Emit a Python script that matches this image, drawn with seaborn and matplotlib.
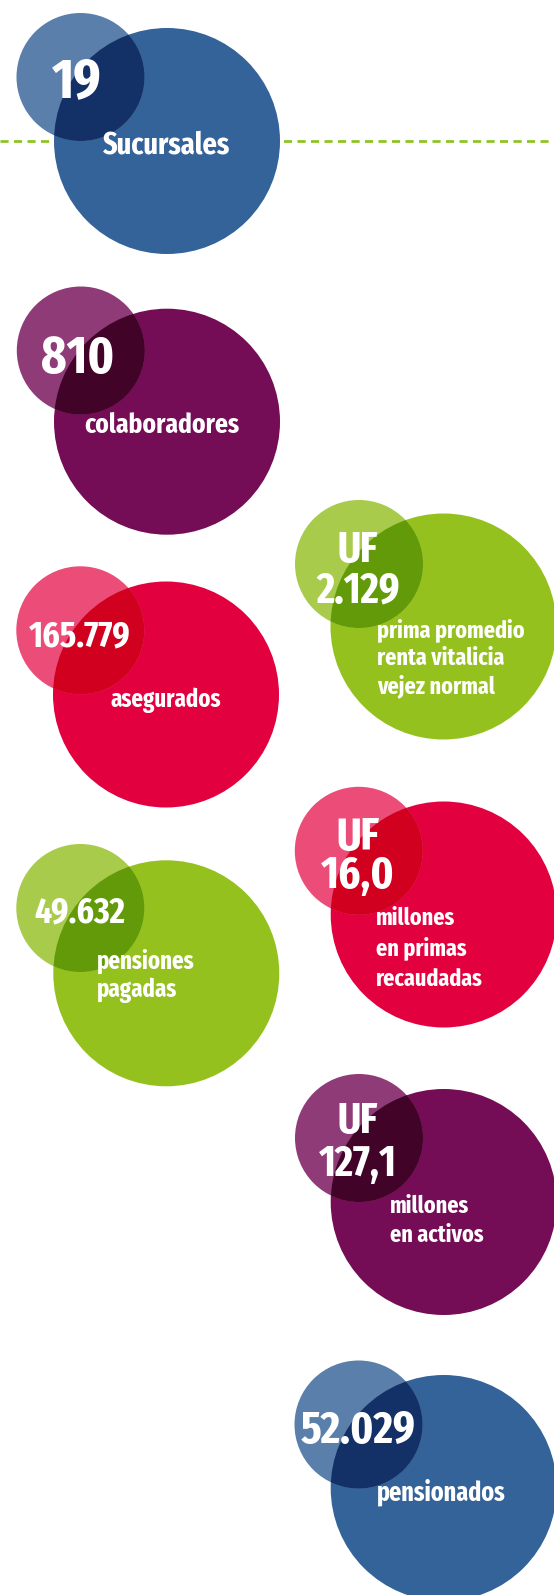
import os
import matplotlib
matplotlib.use('Agg')
import matplotlib.pyplot as plt
from matplotlib import font_manager as fm
from matplotlib.patches import Circle
from matplotlib.colors import to_rgb
import seaborn as sns

# %%
values = ['19', '810', '165.779', '49.632', 'UF\n2.129', 'UF\n16,0', 'UF\n127,1', '52.029']
labels = ['Sucursales', 'colaboradores', 'asegurados', 'pensiones\npagadas',
          'prima promedio\nrenta vitalicia\nvejez normal',
          'millones\nen primas\nrecaudadas', 'millones\nen activos', 'pensionados']

blue = ('#34639a', '#5b7fab')
purple = ('#750c56', '#8f3b78')
red = ('#e2003f', '#eb4d78')
green = ('#95c11f', '#a9cb4b')
colors = [blue, purple, red, green, green, red, purple, blue]

# layout: small circle centre, big circle centre (pixels, y down)
small_xy = [(80.5, 77), (80.8, 350.5), (80.3, 630.3), (80.3, 908),
            (359, 564), (358.8, 850.8), (359, 1138), (358.5, 1424.5)]
big_xy = [(167, 141), (167, 421.7), (166, 694.5), (166.3, 973.3),
          (443.5, 626.5), (443.7, 914.5), (443.7, 1202), (443.7, 1488)]
R_SMALL, R_BIG = 64, 113

# number text: x, baseline of last line, fontsize, gap between lines
num_pos = [(77, 97, 41, 0), (77.5, 372.7, 38, 0), (80, 646.7, 26, 0), (80, 922.7, 26, 0),
           (358, 602.7, 31, 41), (358, 888.5, 33, 38.5), (358, 1176, 31, 43), (358, 1443, 33, 0)]
# label text: x, ha, first baseline, line spacing, fontsize
lab_pos = [(167, 'center', 153, 0, 21), (162, 'center', 433, 0, 19),
           (166, 'center', 706.7, 0, 17), (96.7, 'left', 968, 28.7, 17),
           (376.7, 'left', 636.7, 28, 16.5), (376, 'left', 924.3, 30.5, 16.5),
           (390, 'left', 1212.7, 29, 16.5), (441, 'center', 1500, 0, 18)]
NUM_SCALE, LAB_SCALE = 1.0, 1.05


def multiply(c1, c2):
    a, b = to_rgb(c1), to_rgb(c2)
    return tuple(x * y for x, y in zip(a, b))


def pick_font():
    # look for an installed narrow / condensed bold face
    files = {os.path.basename(f.fname).lower(): f.fname for f in fm.fontManager.ttflist}
    for p in fm.findSystemFonts():
        files.setdefault(os.path.basename(p).lower(), p)
    prefer = ['firasansextracondensed-bold.ttf', 'liberationsansnarrow-bold.ttf',
              'robotocondensed-bold.ttf', 'dejavusanscondensed-bold.ttf']
    for name in prefer:
        if name in files:
            return fm.FontProperties(fname=files[name])
    for name, path in sorted(files.items()):
        if ('narrow' in name or 'condensed' in name) and 'bold' in name \
                and 'italic' not in name and 'oblique' not in name:
            return fm.FontProperties(fname=path)
    return fm.FontProperties(family='Roboto', weight='bold')


# %%
sns.set_theme(style='white')
font = pick_font()

fig = plt.figure(figsize=(5.54, 15.95), dpi=100)
ax = fig.add_axes([0, 0, 1, 1])
ax.set_xlim(0, 554)
ax.set_ylim(1595, 0)
ax.axis('off')

# dashed guide line behind the first group
sns.lineplot(x=[0, 554], y=[141.3, 141.3], color='#8dc21f', lw=2.7 * 0.72,
             ax=ax, zorder=0)
ax.lines[-1].set_dashes((3, 2))

for i in range(len(values)):
    big_c, small_c = colors[i]
    big = Circle(big_xy[i], R_BIG, color=big_c, lw=0, zorder=1)
    ax.add_patch(big)
    ax.add_patch(Circle(small_xy[i], R_SMALL, color=small_c, lw=0, zorder=2))
    over = Circle(small_xy[i], R_SMALL, color=multiply(big_c, small_c), lw=0, zorder=3)
    ax.add_patch(over)
    over.set_clip_path(big)

    x, base, fs, gap = num_pos[i]
    shift = (1 - NUM_SCALE) * fs / 2
    lines = values[i].split('\n')
    for k, line in enumerate(lines):
        y = base - shift - gap * (len(lines) - 1 - k)
        ax.text(x, y, line, ha='center', va='baseline', color='white',
                fontproperties=font, fontsize=fs * NUM_SCALE, zorder=5)

    x, ha, base, sp, fs = lab_pos[i]
    shift = (1 - LAB_SCALE) * fs / 2
    for k, line in enumerate(labels[i].split('\n')):
        ax.text(x, base - shift + sp * k, line, ha=ha, va='baseline', color='white',
                fontproperties=font, fontsize=fs * LAB_SCALE, zorder=5)

fig.savefig('out.png', dpi=100)
